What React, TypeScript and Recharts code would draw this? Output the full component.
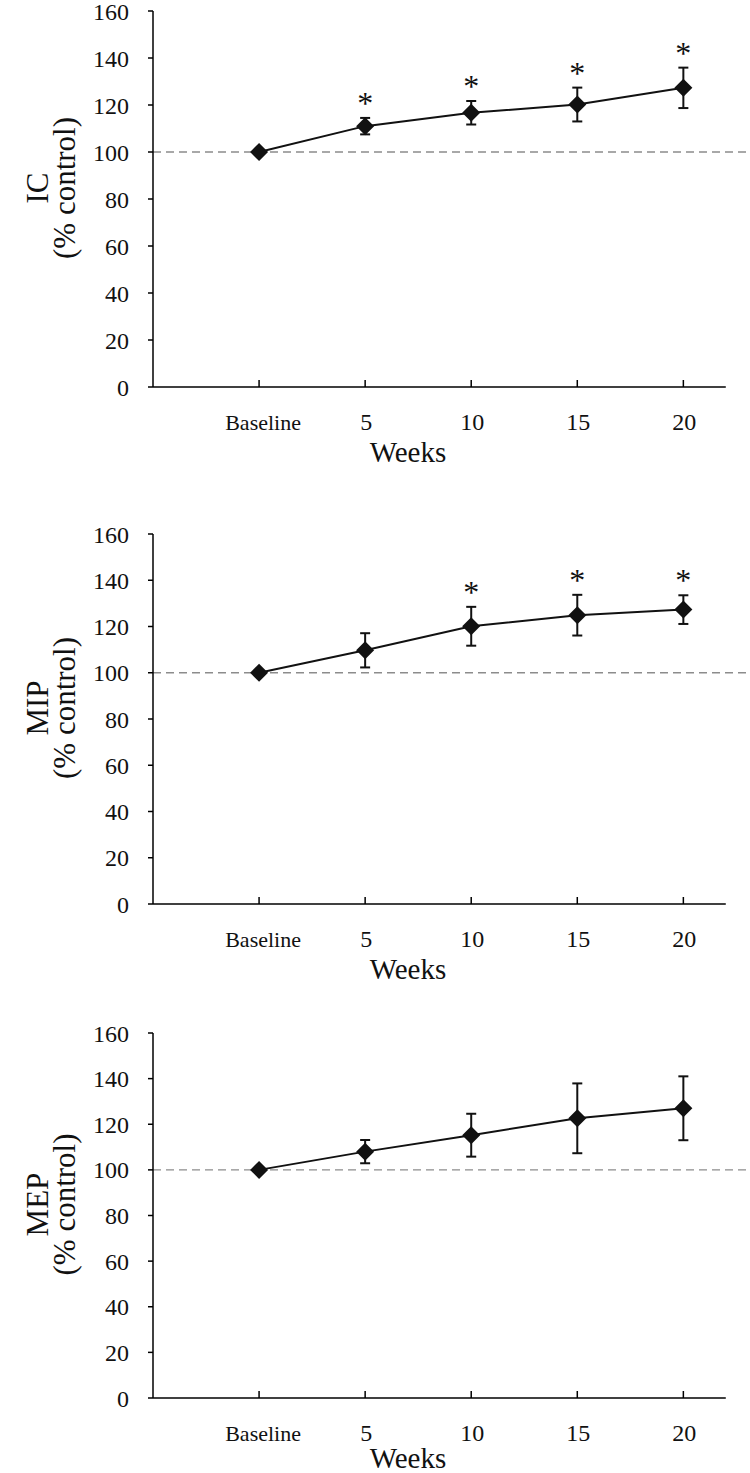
import {
  ComposedChart,
  Line,
  XAxis,
  YAxis,
  ErrorBar,
  ReferenceLine,
  LabelList,
} from "recharts";

// ── data ─────────────────────────────────────────────────────────────────────
const weeks = [0, 5, 10, 15, 20];
const yTicks = [0, 20, 40, 60, 80, 100, 120, 140, 160];

const icMean = [100, 111, 116.7, 120.2, 127.3];
const icErr = [0, 3.5, 5, 7.2, 8.6];
const icSig = [false, true, true, true, true];

const mipMean = [100, 109.7, 120.1, 124.9, 127.3];
const mipErr = [0, 7.4, 8.4, 8.8, 6.2];
const mipSig = [false, false, true, true, true];

const mepMean = [100, 108, 115.2, 122.6, 127];
const mepErr = [0, 5.1, 9.4, 15.3, 14];
const mepSig = [false, false, false, false, false];

const FONT = '"Liberation Serif", "Times New Roman", serif';

const buildRows = (mean: number[], err: number[], sig: boolean[]) =>
  weeks.map((w, i) => ({
    week: w,
    mean: mean[i],
    err: err[i],
    star: sig[i] ? mean[i] + err[i] : null,
  }));

// ── pieces ───────────────────────────────────────────────────────────────────
const Diamond = (props: any) => {
  const { cx, cy } = props;
  if (cx == null || cy == null) return null;
  const r = 9;
  return (
    <path
      d={`M${cx},${cy - r} L${cx + r},${cy} L${cx},${cy + r} L${cx - r},${cy} Z`}
      fill="#111"
    />
  );
};

const XTick = ({ x, y, payload }: any) => {
  const isBase = payload.value === 0;
  const label = isBase ? "Baseline" : String(payload.value);
  return (
    <g>
      <line x1={x} x2={x} y1={y} y2={y - 7} stroke="#000" strokeWidth={1.5} />
      <text
        x={x + (isBase ? 4 : 1)}
        y={y + 35}
        textAnchor="middle"
        dominantBaseline="central"
        fontSize={isBase ? 22 : 24}
        fill="#111"
        fontFamily={FONT}
      >
        {label}
      </text>
    </g>
  );
};

const StarLabel = (props: any) => {
  const { x, y, value } = props;
  if (value == null || y == null) return null;
  return (
    <text x={x} y={y - 4} textAnchor="middle" fontSize={32} fill="#111" fontFamily={FONT}>
      *
    </text>
  );
};

function Panel({
  title,
  rows,
  top,
  height,
  plotTop,
  plotBottom,
  weeksGap,
}: {
  title: string;
  rows: any[];
  top: number;
  height: number;
  plotTop: number;
  plotBottom: number;
  weeksGap: number;
}) {
  const mTop = plotTop - top;
  const mBottom = top + height - plotBottom - 60;
  const mid = (plotTop + plotBottom) / 2 - top - 11;
  return (
    <div style={{ position: "absolute", left: 0, top, width: 750, height }}>
      <ComposedChart
        width={750}
        height={height}
        data={rows}
        margin={{ top: mTop, right: 3, bottom: mBottom, left: 93 }}
      >
        <XAxis
          dataKey="week"
          type="number"
          domain={[-5, 23]}
          ticks={weeks}
          allowDataOverflow
          axisLine={false}
          tickLine={false}
          tickSize={0}
          tickMargin={0}
          height={60}
          tick={<XTick />}
          label={{
            content: () => (
              <text
                x={408}
                y={plotBottom - top + weeksGap}
                textAnchor="middle"
                dominantBaseline="central"
                fontSize={29}
                fill="#111"
                fontFamily={FONT}
              >
                Weeks
              </text>
            ),
          }}
        />
        <YAxis
          domain={[0, 160]}
          ticks={yTicks}
          width={60}
          interval={0}
          stroke="#000"
          tickSize={5}
          tickMargin={19}
          tick={{ fontSize: 24, fill: "#111", fontFamily: FONT }}
          axisLine={{ stroke: "#000", strokeWidth: 1.5 }}
          tickLine={{ stroke: "#000", strokeWidth: 1.5 }}
          label={{
            content: () => (
              <g fontFamily={FONT} fill="#111" fontSize={31}>
                <text
                  x={37}
                  y={mid}
                  transform={`rotate(-90 37 ${mid})`}
                  textAnchor="middle"
                  dominantBaseline="central"
                >
                  {title}
                </text>
                <text
                  x={64}
                  y={mid}
                  transform={`rotate(-90 64 ${mid})`}
                  textAnchor="middle"
                  dominantBaseline="central"
                >
                  (% control)
                </text>
              </g>
            ),
          }}
        />
        <ReferenceLine
          y={100}
          stroke="#8c8c8c"
          strokeWidth={1.4}
          strokeDasharray="8 5"
          ifOverflow="visible"
        />
        <ReferenceLine
          segment={[
            { x: -5, y: 0 },
            { x: 22, y: 0 },
          ]}
          stroke="#000"
          strokeWidth={1.5}
          ifOverflow="visible"
        />
        <Line
          dataKey="mean"
          stroke="#111"
          strokeWidth={2}
          dot={<Diamond />}
          activeDot={false}
          isAnimationActive={false}
        >
          <ErrorBar dataKey="err" width={5} stroke="#111" strokeWidth={2} direction="y" />
        </Line>
        <Line
          dataKey="star"
          stroke="none"
          dot={false}
          activeDot={false}
          isAnimationActive={false}
        >
          <LabelList dataKey="star" content={<StarLabel />} />
        </Line>
      </ComposedChart>
    </div>
  );
}

export default function App() {
  return (
    <div
      style={{
        position: "absolute",
        left: 0,
        top: 0,
        width: 750,
        height: 1473,
        background: "#fff",
        fontFamily: FONT,
      }}
    >
      <Panel title="IC" rows={buildRows(icMean, icErr, icSig)} top={0} height={480} plotTop={11} plotBottom={387} weeksGap={65} />
      <Panel title="MIP" rows={buildRows(mipMean, mipErr, mipSig)} top={490} height={500} plotTop={534} plotBottom={904} weeksGap={65} />
      <Panel title="MEP" rows={buildRows(mepMean, mepErr, mepSig)} top={990} height={483} plotTop={1033} plotBottom={1398} weeksGap={60} />
    </div>
  );
}
